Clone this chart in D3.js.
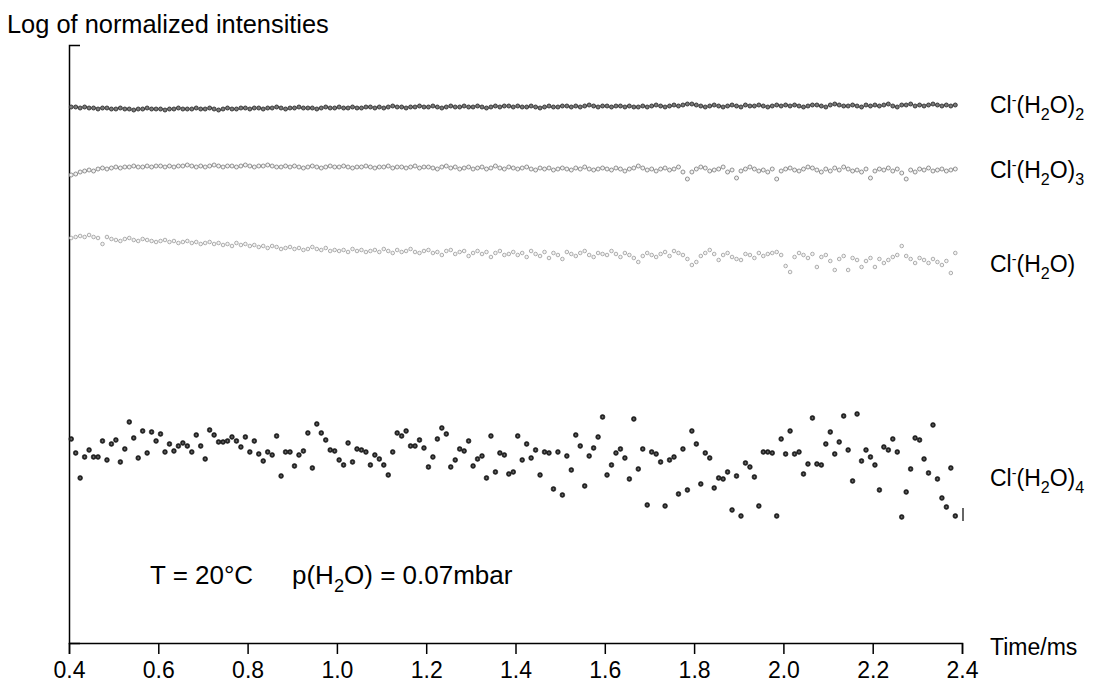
<!DOCTYPE html>
<html>
<head>
<meta charset="utf-8">
<script src="https://cdn.jsdelivr.net/npm/d3@7"></script>
<style>
  html, body { margin: 0; padding: 0; background: #fff; }
  svg { display: block; font-family: "Liberation Sans", Arial, Helvetica, sans-serif; }
</style>
</head>
<body>
<svg id="chart" width="1095" height="683"></svg>
<script>
// Sampling grid of the arrival time (ms)
const tStart = 0.405;
const tStep = 0.01;

// Log of normalized intensities, one value per time step
const clH2O2 = [
  -0.62,-0.62,-0.63,-0.62,-0.63,-0.63,-0.64,-0.63,-0.63,-0.64,-0.64,-0.63,-0.64,-0.64,-0.65,-0.64,-0.64,-0.63,-0.64,-0.64,
  -0.64,-0.65,-0.64,-0.64,-0.63,-0.64,-0.64,-0.64,-0.63,-0.64,-0.64,-0.63,-0.64,-0.65,-0.64,-0.63,-0.64,-0.64,-0.63,-0.63,
  -0.64,-0.63,-0.63,-0.64,-0.63,-0.63,-0.62,-0.63,-0.64,-0.63,-0.63,-0.62,-0.63,-0.63,-0.63,-0.64,-0.63,-0.62,-0.63,-0.63,
  -0.62,-0.63,-0.63,-0.62,-0.63,-0.63,-0.62,-0.62,-0.63,-0.62,-0.63,-0.62,-0.61,-0.62,-0.62,-0.63,-0.62,-0.62,-0.61,-0.62,
  -0.62,-0.61,-0.62,-0.63,-0.62,-0.61,-0.62,-0.62,-0.61,-0.62,-0.62,-0.61,-0.62,-0.63,-0.62,-0.61,-0.62,-0.61,-0.61,-0.62,
  -0.61,-0.62,-0.62,-0.61,-0.62,-0.63,-0.62,-0.61,-0.62,-0.62,-0.61,-0.61,-0.62,-0.61,-0.62,-0.61,-0.60,-0.61,-0.62,-0.61,
  -0.61,-0.62,-0.61,-0.61,-0.62,-0.61,-0.62,-0.62,-0.61,-0.62,-0.61,-0.60,-0.61,-0.62,-0.61,-0.60,-0.61,-0.60,-0.59,-0.59,
  -0.60,-0.61,-0.62,-0.61,-0.60,-0.61,-0.62,-0.61,-0.60,-0.61,-0.62,-0.60,-0.61,-0.61,-0.60,-0.61,-0.62,-0.61,-0.60,-0.61,
  -0.60,-0.61,-0.60,-0.61,-0.62,-0.61,-0.60,-0.60,-0.61,-0.62,-0.60,-0.59,-0.60,-0.61,-0.61,-0.60,-0.61,-0.62,-0.60,-0.61,
  -0.60,-0.61,-0.60,-0.59,-0.61,-0.62,-0.60,-0.60,-0.59,-0.61,-0.60,-0.61,-0.60,-0.59,-0.60,-0.61,-0.60,-0.61,-0.60
];

const clH2O3 = [
  -1.30,-1.29,-1.27,-1.26,-1.25,-1.26,-1.24,-1.23,-1.24,-1.23,-1.22,-1.23,-1.22,-1.22,-1.21,-1.22,-1.22,-1.21,-1.22,-1.21,
  -1.21,-1.22,-1.21,-1.22,-1.21,-1.21,-1.20,-1.21,-1.22,-1.21,-1.22,-1.21,-1.20,-1.21,-1.22,-1.21,-1.21,-1.22,-1.21,-1.20,
  -1.21,-1.22,-1.21,-1.21,-1.20,-1.21,-1.22,-1.22,-1.21,-1.22,-1.21,-1.22,-1.23,-1.22,-1.21,-1.22,-1.23,-1.22,-1.21,-1.22,
  -1.22,-1.21,-1.22,-1.23,-1.22,-1.22,-1.21,-1.22,-1.23,-1.22,-1.22,-1.21,-1.23,-1.22,-1.22,-1.23,-1.22,-1.21,-1.23,-1.22,
  -1.22,-1.23,-1.24,-1.22,-1.21,-1.23,-1.22,-1.24,-1.23,-1.22,-1.24,-1.23,-1.22,-1.24,-1.23,-1.21,-1.23,-1.24,-1.22,-1.23,
  -1.24,-1.23,-1.22,-1.24,-1.25,-1.23,-1.24,-1.23,-1.25,-1.24,-1.23,-1.24,-1.25,-1.23,-1.24,-1.22,-1.24,-1.25,-1.24,-1.23,
  -1.24,-1.25,-1.23,-1.24,-1.26,-1.24,-1.23,-1.21,-1.23,-1.25,-1.24,-1.26,-1.24,-1.23,-1.25,-1.24,-1.22,-1.27,-1.34,-1.27,
  -1.24,-1.22,-1.23,-1.26,-1.25,-1.24,-1.22,-1.27,-1.25,-1.33,-1.26,-1.24,-1.22,-1.24,-1.26,-1.25,-1.27,-1.24,-1.34,-1.26,
  -1.24,-1.23,-1.25,-1.26,-1.24,-1.22,-1.23,-1.25,-1.27,-1.24,-1.26,-1.23,-1.25,-1.22,-1.24,-1.26,-1.25,-1.27,-1.24,-1.33,
  -1.26,-1.24,-1.25,-1.23,-1.26,-1.24,-1.28,-1.34,-1.25,-1.27,-1.24,-1.25,-1.23,-1.26,-1.25,-1.24,-1.26,-1.25,-1.24
];

const clH2O1 = [
  -1.93,-1.92,-1.91,-1.92,-1.90,-1.92,-1.93,-1.99,-1.92,-1.94,-1.95,-1.96,-1.94,-1.93,-1.95,-1.96,-1.94,-1.95,-1.96,-1.97,
  -1.96,-1.95,-1.97,-1.96,-1.98,-1.97,-1.96,-1.98,-1.97,-1.99,-1.98,-1.97,-1.99,-1.98,-2.00,-1.99,-2.01,-1.98,-2.00,-1.99,
  -2.01,-2.00,-2.02,-2.01,-2.03,-2.01,-2.02,-2.04,-2.03,-2.02,-2.04,-2.03,-2.05,-2.04,-2.02,-2.04,-2.05,-2.03,-2.06,-2.05,
  -2.06,-2.05,-2.07,-2.04,-2.06,-2.05,-2.07,-2.06,-2.05,-2.07,-2.04,-2.06,-2.08,-2.05,-2.07,-2.06,-2.04,-2.07,-2.08,-2.06,
  -2.05,-2.08,-2.07,-2.10,-2.06,-2.05,-2.09,-2.07,-2.06,-2.11,-2.08,-2.06,-2.09,-2.07,-2.12,-2.08,-2.06,-2.10,-2.09,-2.07,
  -2.10,-2.08,-2.12,-2.06,-2.09,-2.11,-2.07,-2.13,-2.08,-2.10,-2.14,-2.07,-2.09,-2.11,-2.08,-2.06,-2.10,-2.12,-2.08,-2.09,
  -2.10,-2.06,-2.09,-2.12,-2.08,-2.10,-2.13,-2.17,-2.11,-2.08,-2.10,-2.12,-2.09,-2.07,-2.11,-2.06,-2.08,-2.10,-2.14,-2.20,
  -2.17,-2.11,-2.08,-2.05,-2.09,-2.15,-2.10,-2.08,-2.12,-2.14,-2.15,-2.09,-2.10,-2.13,-2.08,-2.11,-2.09,-2.08,-2.07,-2.10,
  -2.21,-2.27,-2.12,-2.08,-2.10,-2.13,-2.09,-2.22,-2.12,-2.10,-2.16,-2.25,-2.14,-2.11,-2.25,-2.13,-2.15,-2.22,-2.16,-2.13,
  -2.22,-2.14,-2.18,-2.15,-2.12,-2.10,-2.01,-2.11,-2.14,-2.18,-2.13,-2.15,-2.18,-2.14,-2.17,-2.20,-2.16,-2.28,-2.08
];

const clH2O4 = [
  -3.94,-4.08,-4.33,-4.12,-4.05,-4.12,-4.12,-3.96,-4.15,-3.99,
  -3.95,-4.17,-4.04,-3.77,-3.93,-4.13,-3.86,-4.08,-3.87,-3.96,
  -3.89,-4.07,-3.99,-4.06,-4.01,-3.98,-4.01,-4.07,-3.90,-4.01,
  -4.14,-3.85,-3.90,-3.97,-3.97,-3.96,-3.92,-3.96,-4.02,-3.92,
  -4.07,-3.96,-4.09,-4.16,-4.07,-4.10,-3.91,-4.31,-4.07,-4.07,
  -4.21,-4.10,-4.06,-3.88,-4.23,-3.79,-3.88,-3.95,-4.05,-4.06,
  -4.15,-4.20,-3.98,-4.17,-4.04,-4.05,-4.07,-4.20,-4.10,-4.14,
  -4.20,-4.30,-4.07,-3.88,-3.91,-3.86,-4.01,-4.01,-3.95,-4.03,
  -4.22,-4.12,-3.94,-3.83,-3.89,-4.22,-4.15,-4.04,-4.06,-3.96,
  -4.21,-4.14,-4.11,-4.33,-3.91,-4.27,-4.08,-4.10,-4.29,
  -4.27,-3.91,-4.15,-3.99,-4.13,-4.05,-4.30,-4.07,-4.08,-4.44,
  -4.07,-4.50,-4.11,-4.25,-3.90,-4.01,-4.41,-4.11,-4.03,-3.92,
  -3.72,-4.30,-4.20,-4.08,-4.04,-4.13,-4.34,-3.74,-4.24,-4.04,
  -4.60,-4.07,-4.09,-4.17,-4.61,-4.15,-4.12,-4.49,-4.04,-4.45,
  -3.86,-3.99,-4.39,-4.08,-4.13,-4.43,-4.33,-4.34,-4.27,-4.65,
  -4.31,-4.71,-4.18,-4.22,-4.32,-4.61,-4.07,-4.07,-4.08,-4.71,
  -3.94,-4.09,-3.86,-4.09,-4.07,-4.29,-4.19,-3.73,-4.19,-4.20,
  -3.99,-3.87,-4.09,-3.97,-3.71,-4.05,-4.36,-3.69,-4.16,-4.05,
  -4.12,-4.20,-4.45,-4.02,-4.05,-3.94,-4.07,-4.72,-4.47,-4.24,
  -3.93,-3.95,-4.14,-4.28,-3.80,-4.34,-4.53,-4.62,-4.23,-4.71
];

// Uncertainty bar drawn after the last Cl-(H2O)4 point
const errorBar = { t: 2.4, low: -4.76, high: -4.63 };

const xTicks = [0.4, 0.6, 0.8, 1.0, 1.2, 1.4, 1.6, 1.8, 2.0, 2.2, 2.4];

const svg = d3.select("#chart");
const margin = { left: 69, right: 962, top: 45, bottom: 643 };

const x = d3.scaleLinear().domain([0.4, 2.4]).range([margin.left, margin.right]);
const y = d3.scaleLinear().domain([-5.98, 0]).range([margin.bottom, margin.top]);

// Series styling and label text (each label part: [text, "sub" | "sup" | ""])
const series = [
  { values: clH2O2, r: 2.0, fill: "#7a7a7a", stroke: "#2e2e2e", sw: 0.9,
    label: [["Cl",""],["-","sup"],["(H",""],["2","sub"],["O)",""],["2","sub"]] },
  { values: clH2O3, r: 2.0, fill: "#f2f2f2", stroke: "#858585", sw: 0.9,
    label: [["Cl",""],["-","sup"],["(H",""],["2","sub"],["O)",""],["3","sub"]] },
  { values: clH2O1, r: 1.8, fill: "#f4f4f4", stroke: "#9a9a9a", sw: 0.8,
    label: [["Cl",""],["-","sup"],["(H",""],["2","sub"],["O)",""]] },
  { values: clH2O4, r: 2.4, fill: "#262626", stroke: "#111", sw: 0.6,
    label: [["Cl",""],["-","sup"],["(H",""],["2","sub"],["O)",""],["4","sub"]] }
];
const labelBaselines = [-0.68, -1.33, -2.27, -4.41];

// Axes
const xAxis = d3.axisBottom(x)
  .tickValues(xTicks)
  .tickFormat(d3.format(".1f"))
  .tickSize(11)
  .tickPadding(8);

const gx = svg.append("g")
  .attr("transform", `translate(0,${margin.bottom})`)
  .call(xAxis);
gx.select(".domain").attr("stroke", "#000").attr("stroke-width", 1.5);
gx.selectAll(".tick line").attr("stroke", "#000").attr("stroke-width", 1.5);
gx.selectAll(".tick text")
  .attr("fill", "#000")
  .style("font-size", "23px")
  .style("font-family", "'Liberation Sans', Arial, sans-serif");

const yAxis = d3.axisLeft(y).tickValues([]).tickSizeOuter(-11);
const gy = svg.append("g")
  .attr("transform", `translate(${margin.left},0)`)
  .call(yAxis);
gy.select(".domain").attr("stroke", "#000").attr("stroke-width", 1.5);

// Axis titles
svg.append("text")
  .attr("x", 7).attr("y", 33)
  .style("font-size", "25.4px")
  .text("Log of normalized intensities");

svg.append("text")
  .attr("x", 990).attr("y", 655)
  .style("font-size", "23px")
  .text("Time/ms");

// Rich text helper for chemical formulas
function richText(sel, parts, size) {
  let shift = 0;
  parts.forEach(([txt, kind]) => {
    let target = 0, fs = size;
    if (kind === "sub") { target = size * 0.32; fs = size * 0.7; }
    if (kind === "sup") { target = -size * 0.36; fs = size * 0.62; }
    sel.append("tspan")
      .attr("dy", target - shift)
      .style("font-size", fs + "px")
      .text(txt);
    shift = target;
  });
}

// Markers
series.forEach((s, k) => {
  const g = svg.append("g");
  g.selectAll("circle")
    .data(s.values)
    .join("circle")
    .attr("cx", (d, i) => x(tStart + i * tStep))
    .attr("cy", d => y(d))
    .attr("r", s.r)
    .attr("fill", s.fill)
    .attr("stroke", s.stroke)
    .attr("stroke-width", s.sw);
  if (k === 3) {
    g.selectAll("circle.core")
      .data(s.values)
      .join("circle")
      .attr("class", "core")
      .attr("cx", (d, i) => x(tStart + i * tStep))
      .attr("cy", d => y(d))
      .attr("r", 0.8)
      .attr("fill", "#8a8a8a");
  }
  const t = svg.append("text")
    .attr("x", 990)
    .attr("y", y(labelBaselines[k]))
    .style("font-size", "23px");
  richText(t, s.label, 23);
});

// Uncertainty bar
svg.append("line")
  .attr("x1", x(errorBar.t) + 1).attr("x2", x(errorBar.t) + 1)
  .attr("y1", y(errorBar.low)).attr("y2", y(errorBar.high))
  .attr("stroke", "#333").attr("stroke-width", 1.5);

// Experimental conditions
const cond = svg.append("text")
  .attr("x", 150).attr("y", 584)
  .style("font-size", "26px");
richText(cond, [["T = 20°C", ""]], 26);
const cond2 = svg.append("text")
  .attr("x", 292).attr("y", 584)
  .style("font-size", "26px");
richText(cond2, [["p(H", ""], ["2", "sub"], ["O) = 0.07mbar", ""]], 26);
</script>
</body>
</html>
